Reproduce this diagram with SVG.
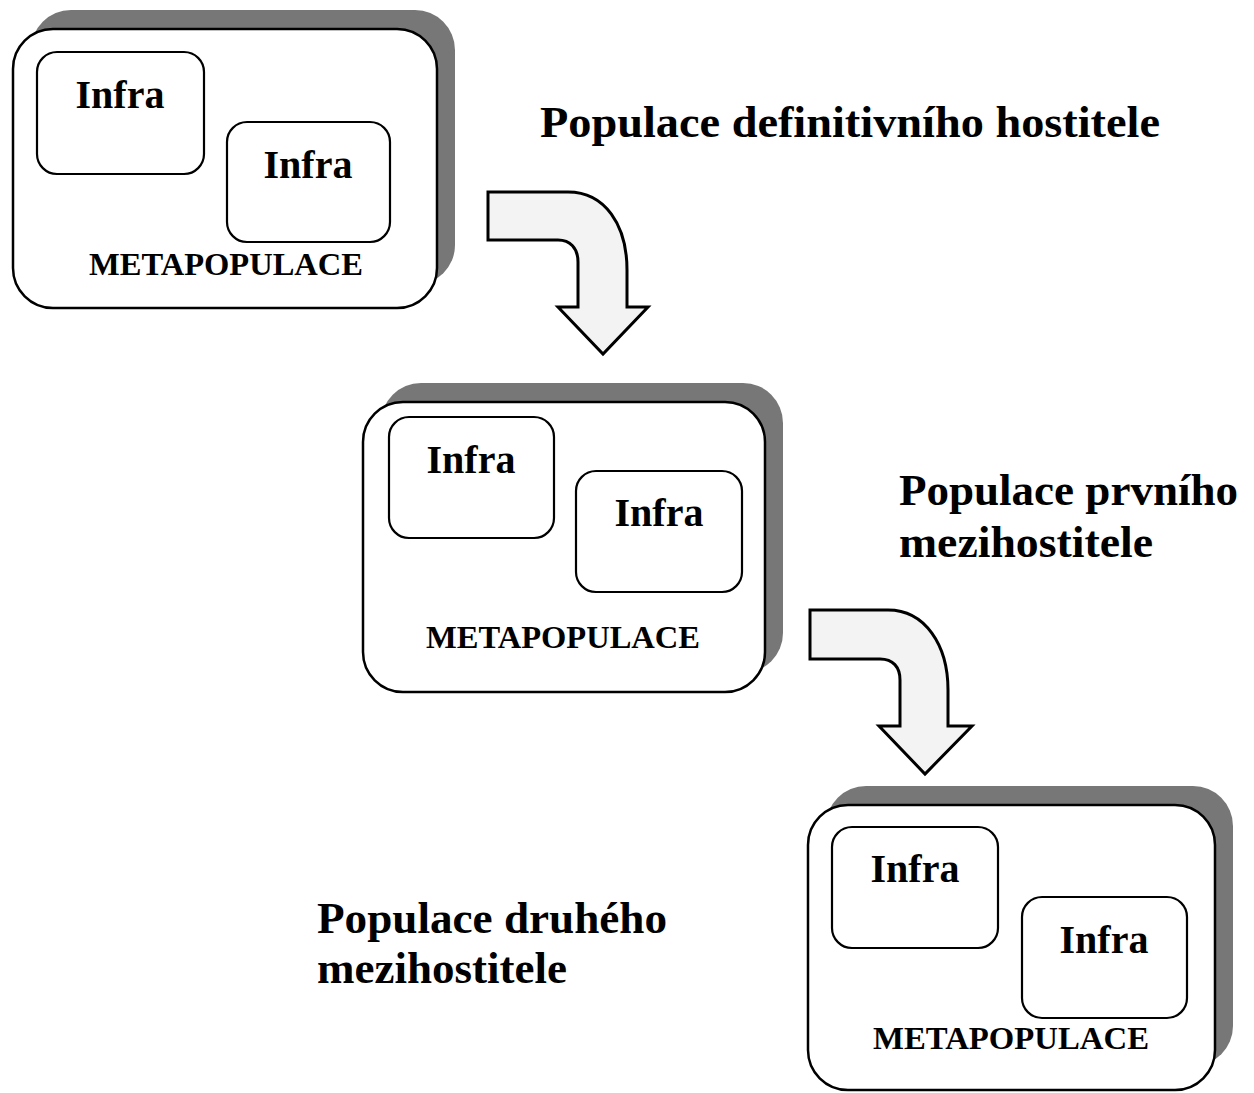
<svg xmlns="http://www.w3.org/2000/svg" width="1254" height="1093" viewBox="0 0 1254 1093">
<style>
.shadow{fill:#777;stroke:none}
.outer{fill:#fff;stroke:#000;stroke-width:2.5}
.inner{fill:#fff;stroke:#000;stroke-width:2.2}
.infra{font-family:"Liberation Serif","Times New Roman",serif;font-weight:bold;font-size:40px;fill:#000;text-anchor:middle}
.meta{font-family:"Liberation Serif","Times New Roman",serif;font-weight:bold;font-size:32px;fill:#000;text-anchor:middle}
.title{font-family:"Liberation Serif","Times New Roman",serif;font-weight:bold;font-size:45px;fill:#000}
.arrow{fill:#f3f3f3;stroke:#000;stroke-width:3;stroke-linejoin:miter}
</style>
<rect width="1254" height="1093" fill="#fff"/>
<g id="node-meta1">
<rect class="shadow" x="31" y="10" width="424" height="275" rx="40"/>
<rect class="outer" x="13" y="29" width="424" height="279" rx="40"/>
<rect class="inner" x="37" y="52" width="167" height="122" rx="20"/>
<text class="infra" x="120" y="108">Infra</text>
<rect class="inner" x="227" y="122" width="163" height="120" rx="20"/>
<text class="infra" x="308" y="178">Infra</text>
<text class="meta" x="226" y="275" textLength="274" lengthAdjust="spacingAndGlyphs">METAPOPULACE</text>
</g>
<g id="node-meta2">
<rect class="shadow" x="381" y="383" width="402" height="290" rx="40"/>
<rect class="outer" x="363" y="402" width="402" height="290" rx="40"/>
<rect class="inner" x="389" y="417" width="165" height="121" rx="20"/>
<text class="infra" x="471" y="473">Infra</text>
<rect class="inner" x="576" y="471" width="166" height="121" rx="20"/>
<text class="infra" x="659" y="526">Infra</text>
<text class="meta" x="563" y="648" textLength="274" lengthAdjust="spacingAndGlyphs">METAPOPULACE</text>
</g>
<g id="node-meta3">
<rect class="shadow" x="826" y="786" width="407" height="280" rx="40"/>
<rect class="outer" x="808" y="805" width="407" height="285" rx="40"/>
<rect class="inner" x="832" y="827" width="166" height="121" rx="20"/>
<text class="infra" x="915" y="882">Infra</text>
<rect class="inner" x="1022" y="897" width="165" height="121" rx="20"/>
<text class="infra" x="1104" y="953">Infra</text>
<text class="meta" x="1011" y="1049" textLength="276" lengthAdjust="spacingAndGlyphs">METAPOPULACE</text>
</g>
<g id="labels">
<text class="title" x="540" y="137" textLength="620" lengthAdjust="spacingAndGlyphs">Populace definitivního hostitele</text>
<text class="title" x="899" y="505" textLength="339" lengthAdjust="spacingAndGlyphs">Populace prvního</text>
<text class="title" x="899" y="557" textLength="254" lengthAdjust="spacingAndGlyphs">mezihostitele</text>
<text class="title" x="317" y="933" textLength="350" lengthAdjust="spacingAndGlyphs">Populace druhého</text>
<text class="title" x="317" y="983">mezihostitele</text>
</g>
<g id="connectors">
<path class="arrow" d="M488,192 L568,192 C605,192 627,225 627,270 L627,307 L648,307 L603,354 L558,307 L578,307 L578,262 C578,248 570,240 558,240 L488,240 Z"/>
<path class="arrow" d="M810,610 L888,610 C925,610 948,645 948,690 L948,726 L972,726 L925,774 L879,726 L900,726 L900,680 C900,667 893,659 880,659 L810,659 Z"/>
</g>
</svg>
